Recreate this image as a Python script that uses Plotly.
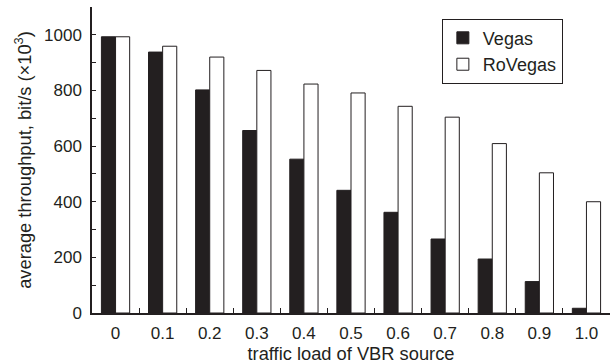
import plotly.graph_objects as go

categories = ["0", "0.1", "0.2", "0.3", "0.4", "0.5", "0.6", "0.7", "0.8", "0.9", "1.0"]
vegas = [993, 938, 802, 656, 553, 441, 362, 266, 194, 113, 17]
rovegas = [993, 959, 920, 872, 823, 791, 743, 704, 609, 504, 400]

font = dict(family="Liberation Sans, Arial, sans-serif", size=17, color="#231f20")

fig = go.Figure()
fig.add_trace(go.Bar(x=categories, y=vegas, name="Vegas", legendgroup="a",
                     marker=dict(color="#231f20", line=dict(color="#231f20", width=1))))
fig.add_trace(go.Bar(x=categories, y=rovegas, name="RoVegas", legendgroup="b",
                     marker=dict(color="white", line=dict(color="#231f20", width=1))))

fig.update_layout(
    width=611, height=364,
    margin=dict(l=92, r=1, t=7, b=51),
    paper_bgcolor="white", plot_bgcolor="white",
    font=font,
    barmode="group", bargap=0.4, bargroupgap=0,
    showlegend=True,
    legend=dict(x=0.909, y=0.962, xanchor="right", yanchor="top",
                bordercolor="#231f20", borderwidth=1, bgcolor="white",
                font=dict(size=18), itemwidth=30, tracegroupgap=0),
    xaxis=dict(
        type="category",
        showline=True, linecolor="#231f20", linewidth=1.5,
        ticks="inside", tickson="boundaries", ticklen=5, tickcolor="#231f20",
        showgrid=False, zeroline=False,
        ticklabelstandoff=4,
        title=dict(text="traffic load of VBR source", standoff=5, font=dict(size=18.3)),
        tickfont=dict(size=17),
    ),
    yaxis=dict(
        range=[0, 1100], tickvals=[0, 200, 400, 600, 800, 1000],
        showline=True, linecolor="#231f20", linewidth=1.5,
        ticks="inside", ticklen=4, tickcolor="#231f20",
        minor=dict(tickvals=[100, 300, 500, 700, 900], ticks="inside", ticklen=4, tickcolor="#231f20", showgrid=False),
        showgrid=False, zeroline=False,
        ticklabelstandoff=5,
        title=dict(text="average throughput, bit/s (×10<sup>3</sup>)", standoff=8, font=dict(size=18.3)),
        tickfont=dict(size=17),
    ),
)

fig.write_html("out.html")
